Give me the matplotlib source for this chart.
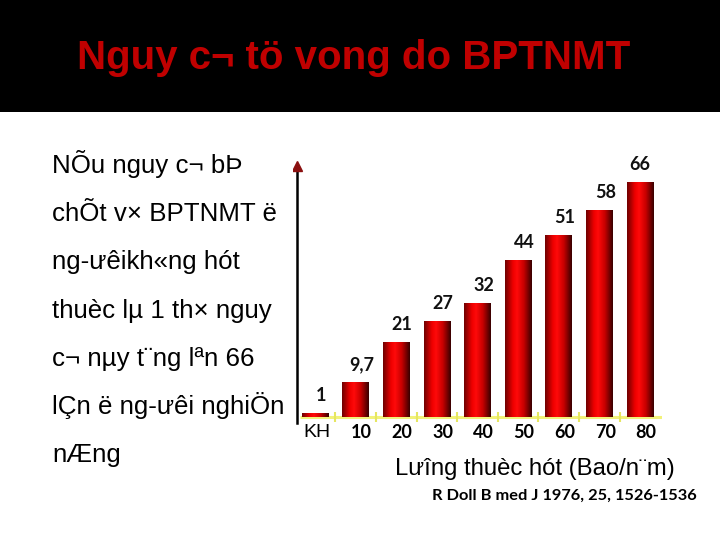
import numpy as np
import matplotlib
matplotlib.use('Agg')
import matplotlib.pyplot as plt
from matplotlib.colors import LinearSegmentedColormap
from matplotlib.patches import Rectangle

# ---- data ----
categories = ['KH', '10', '20', '30', '40', '50', '60', '70', '80']
values = [1, 9.7, 21, 27, 32, 44, 51, 58, 66]
value_labels = ['1', '9,7', '21', '27', '32', '44', '51', '58', '66']
title = 'Nguy c¬ tö vong do BPTNMT'
left_lines = [
    'NÕu nguy c¬ bÞ',
    'chÕt v× BPTNMT ë',
    'ng-ưêikh«ng hót',
    'thuèc lµ 1 th× nguy',
    'c¬ nµy t¨ng lªn 66',
    'lÇn ë ng-ưêi nghiÖn',
    'nÆng',
]
xlabel = 'Lưîng thuèc hót (Bao/n¨m)'
source = 'R Doll B med J 1976, 25, 1526-1536'

SANS = ['Liberation Sans', 'DejaVu Sans']
NUM = ['Lato', 'DejaVu Sans']

fig = plt.figure(figsize=(7.2, 5.4), dpi=100)
fig.patch.set_facecolor('white')
band_h = 112 / 540
fig.patches.append(Rectangle((0, 1 - band_h), 1, band_h, transform=fig.transFigure,
                             facecolor='black', edgecolor='none', zorder=0))
fig.text(354 / 720, 1 - 58 / 540, title, color='#c00000', fontsize=29, fontweight='bold',
         family=SANS, ha='center', va='center')

for k, line in enumerate(left_lines):
    yb = 172.7 + k * 48.3
    fig.text(52 / 720, 1 - yb / 540, line, fontsize=18.6, family=SANS,
             ha='left', va='baseline', color='black')

fig.text(395 / 720, 1 - 475 / 540, xlabel, fontsize=17.2, family=SANS,
         ha='left', va='baseline', color='black')
fig.text(432 / 720, 1 - 500 / 540, source, fontsize=11.8, family=NUM, fontweight='bold',
         ha='left', va='baseline', color='black')

ax = fig.add_axes([0.4065, 0.21296, 0.5133, 0.5093])
ax.axis('off')

cmap = LinearSegmentedColormap.from_list('barred', [
    (0.0, '#6e0000'), (0.3, '#f00000'), (0.45, '#ff0a0a'),
    (0.7, '#c80000'), (1.0, '#380000')])
grad = np.linspace(0, 1, 128).reshape(1, -1)
w = 0.657
for i, v in enumerate(values):
    ax.imshow(grad, cmap=cmap, extent=[i - w / 2, i + w / 2, 0, v], aspect='auto',
              interpolation='bilinear', zorder=3)
    ax.annotate(value_labels[i], xy=(i, v), xytext=(6 if i < 8 else 0, 18),
                textcoords='offset pixels', ha='center', va='center',
                fontsize=13, fontweight='bold', family=NUM, color='#111111', zorder=4)
    if i == 0:
        ax.annotate(categories[i], xy=(i, 0), xytext=(2, -15), textcoords='offset pixels',
                    ha='center', va='center', fontsize=14, family=SANS, color='black')
    else:
        ax.annotate(categories[i], xy=(i, 0), xytext=(6, -15), textcoords='offset pixels',
                    ha='center', va='center', fontsize=13, fontweight='bold', family=NUM,
                    color='black')

n = len(values)
# x axis (yellow) with small ticks between bars
ax.plot([-0.37, n - 0.45], [0, 0], color='#f2f27a', lw=2.2, zorder=2, solid_capstyle='butt')
ax.plot(np.arange(n - 1) + 0.5, np.zeros(n - 1), linestyle='none', marker='|',
        markersize=7, color='#e6e660', markeredgewidth=1.5, zorder=2)

# y axis with arrow
x0 = -0.443
ax.plot([x0, x0], [-1.7, 70.0], color='black', lw=1.8, zorder=2)
ax.plot([x0], [70.6], marker='^', markersize=7, color='#8b1010', zorder=3)

ax.set_xlim(-0.55, 8.55)
ax.set_ylim(-2.25, 75.1)

fig.savefig('out.png', dpi=100, facecolor='white')
